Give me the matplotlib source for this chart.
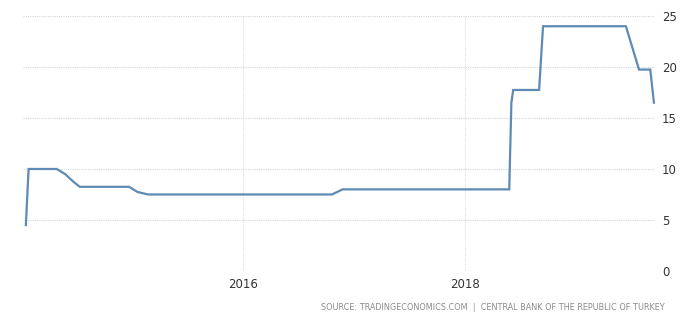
import matplotlib
matplotlib.use("Agg")
import matplotlib.pyplot as plt
import matplotlib.dates as mdates
import pandas as pd

# Turkey policy interest rate (%)
dates = ["2014-01-19", "2014-01-28", "2014-04-30", "2014-05-28", "2014-06-24",
         "2014-07-15", "2014-12-24", "2015-01-20", "2015-02-24", "2016-10-20",
         "2016-11-24", "2018-05-25", "2018-06-01", "2018-06-07", "2018-08-31",
         "2018-09-13", "2019-06-12", "2019-07-25", "2019-08-31", "2019-09-12"]
rates = [4.5, 10.0, 10.0, 9.5, 8.75,
         8.25, 8.25, 7.75, 7.5, 7.5,
         8.0, 8.0, 16.5, 17.75, 17.75,
         24.0, 24.0, 19.75, 19.75, 16.5]
yticks = [0, 5, 10, 15, 20, 25]
xtick_years = ["2016-01-01", "2018-01-01"]
source = "SOURCE: TRADINGECONOMICS.COM  |  CENTRAL BANK OF THE REPUBLIC OF TURKEY"

x = pd.to_datetime(dates)

fig = plt.figure(figsize=(6.8, 3.21), dpi=100)
ax = fig.add_axes([0.034, 0.156, 0.929, 0.794])

ax.plot(x, rates, color="#5e8ab4", linewidth=1.6, solid_joinstyle="miter")

ax.set_xlim(pd.Timestamp("2014-01-10"), pd.Timestamp("2019-09-15"))
ax.set_ylim(0, 25)
ax.set_yticks(yticks)
ax.set_xticks(pd.to_datetime(xtick_years))
ax.xaxis.set_major_formatter(mdates.DateFormatter("%Y"))

ax.yaxis.tick_right()
ax.tick_params(axis="both", length=0, labelsize=8.5, colors="#333333")
ax.tick_params(axis="y", pad=5)
ax.tick_params(axis="x", pad=5)

ax.grid(True, axis="y", color="#d4d4d4", linestyle=(0, (1, 1)), linewidth=0.8)
ax.grid(True, axis="x", color="#e0e0e0", linestyle=(0, (1, 1)), linewidth=0.8)
ax.set_axisbelow(True)

for s in ax.spines.values():
    s.set_visible(False)

fig.text(0.978, 0.028, source, ha="right", va="bottom", fontsize=5.9,
         color="#8a8a8a")

fig.savefig("out.png", dpi=100)
